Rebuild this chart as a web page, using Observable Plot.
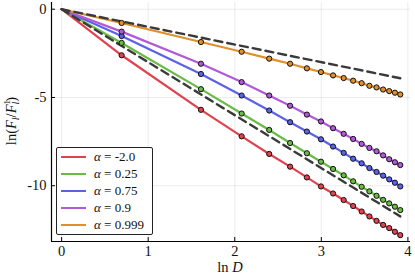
<!DOCTYPE html>
<html>
<head>
<meta charset="utf-8">
<script src="https://cdn.jsdelivr.net/npm/d3@7"></script>
<script src="https://cdn.jsdelivr.net/npm/@observablehq/plot@0.6"></script>
<style>
  html, body { margin: 0; padding: 0; background: #fff; }
  #wrap { position: relative; width: 415px; height: 277px; font-family: "Liberation Serif", serif; }
  #legend { position: absolute; left: 56px; top: 147px; width: 97px; height: 88px; border: 1px solid #222; border-radius: 2px; background: #fff; box-sizing: border-box; }
  .row { position: absolute; left: 0; height: 17px; display: flex; align-items: center; font-size: 13px; color: #111; white-space: nowrap; font-family: "Liberation Serif", serif; }
  .sw { width: 25px; height: 2px; margin-left: 4px; margin-right: 8px; }
  .al { font-style: italic; }
</style>
</head>
<body>
<div id="wrap"></div>
<script>
// D values (x = ln D)
const D = [1, 2, 5, 8, 11, 14, 17, 20, 23, 26, 29, 32, 35, 38, 41, 44, 47, 50];
const alphas = ["-2.0", "0.25", "0.75", "0.9", "0.999"];
const colors = ["#e0424f", "#69bb45", "#5b62e8", "#b15ad8", "#e08f2c"];
// ln(F_l / F_l^1) values per series (first value at D=1 is 0)
const yRed    = [0, -2.61, -5.70, -7.20, -8.20, -8.92, -9.53, -10.04, -10.44, -10.81, -11.15, -11.46, -11.74, -11.99, -12.22, -12.40, -12.61, -12.80];
const yGreen  = [0, -1.91, -4.53, -5.91, -6.84, -7.58, -8.16, -8.64, -9.05, -9.41, -9.75, -10.06, -10.32, -10.57, -10.80, -11.00, -11.19, -11.38];
const yBlue   = [0, -1.52, -3.67, -4.89, -5.74, -6.40, -6.93, -7.37, -7.78, -8.14, -8.47, -8.73, -9.00, -9.22, -9.43, -9.64, -9.83, -10.04];
const yPurple = [0, -1.27, -3.09, -4.13, -4.89, -5.47, -5.97, -6.36, -6.74, -7.06, -7.35, -7.63, -7.86, -8.05, -8.28, -8.50, -8.67, -8.83];
const yOrange = [0, -0.78, -1.86, -2.41, -2.80, -3.09, -3.35, -3.56, -3.75, -3.90, -4.05, -4.19, -4.34, -4.43, -4.55, -4.64, -4.73, -4.83];
// reference dashed lines: slope -1 and -3
const refSlopes = [-1, -3];
const xTicks = [0, 1, 2, 3, 4];
const yTicks = [0, -5, -10];

const series = [yRed, yGreen, yBlue, yPurple, yOrange];
const data = [];
series.forEach((ys, i) => ys.forEach((y, j) => data.push({s: alphas[i], x: Math.log(D[j]), y, j})));
const pts = data.filter(d => d.j > 0);
const refData = [];
refSlopes.forEach(k => [D[0], D[D.length - 1]].forEach(d => refData.push({k, x: Math.log(d), y: k * Math.log(d)})));

const xDomain = [-0.117, 4.03];
const yDomain = [-13.16, 0.38];

const chart = Plot.plot({
  width: 415,
  height: 277,
  marginLeft: 51,
  marginRight: 5,
  marginTop: 2,
  marginBottom: 36,
  style: {fontFamily: "Liberation Serif, serif", fontSize: "14px", background: "#fff", overflow: "visible"},
  x: {domain: xDomain, ticks: xTicks, label: null},
  y: {domain: yDomain, ticks: yTicks, label: null},
  color: {domain: alphas, range: colors},
  marks: [
    Plot.gridX(xTicks, {stroke: "#000", strokeOpacity: 0.1, strokeWidth: 0.8}),
    Plot.gridY(yTicks, {stroke: "#000", strokeOpacity: 0.1, strokeWidth: 0.8}),
    Plot.line(data, {x: "x", y: "y", z: "s", stroke: "s", strokeWidth: 2.2}),
    Plot.line(refData, {x: "x", y: "y", z: "k", stroke: "#3a3a3a", strokeWidth: 2.4, strokeDasharray: "8,5"}),
    Plot.dot(pts, {x: "x", y: "y", fill: "s", stroke: "#111", strokeWidth: 1, r: 2.6}),
    Plot.ruleX([xDomain[0]], {stroke: "#000", strokeWidth: 1.2}),
    Plot.ruleY([yDomain[0]], {stroke: "#000", strokeWidth: 1.2}),
    Plot.axisX(xTicks, {tickSize: 0, tickPadding: 4, fontSize: 14.5, fill: "#111"}),
    Plot.axisX(xTicks, {tickSize: 4, text: null, dy: -4, stroke: "#000"}),
    Plot.axisY(yTicks, {tickSize: 0, tickPadding: 5, fontSize: 14.5, fill: "#111", tickFormat: d => d === 0 ? "0" : "-" + Math.abs(d)}),
    Plot.axisY(yTicks, {tickSize: 4, text: null, dx: 4, stroke: "#000"})
  ]
});

const wrap = document.getElementById("wrap");
wrap.appendChild(chart);

// axis labels
const svg = d3.select(chart);
const yl = svg.append("text")
  .attr("transform", "translate(16,121) rotate(-90)")
  .attr("text-anchor", "middle")
  .attr("font-size", 14.5).attr("fill", "#111")
  .attr("font-family", "Liberation Serif, serif");
yl.append("tspan").text("ln(");
yl.append("tspan").attr("font-style", "italic").text("F");
yl.append("tspan").attr("font-style", "italic").attr("font-size", 10).attr("dy", 3).text("l");
yl.append("tspan").attr("dy", -3).text("/");
yl.append("tspan").attr("font-style", "italic").text("F");
yl.append("tspan").attr("font-size", 9).attr("dy", -6).text("1");
yl.append("tspan").attr("font-style", "italic").attr("font-size", 10).attr("dx", -4.5).attr("dy", 9).text("l");
yl.append("tspan").attr("dy", -3).text(")");

const xl = svg.append("text")
  .attr("x", 230).attr("y", 272)
  .attr("text-anchor", "middle")
  .attr("font-size", 14.5).attr("fill", "#111")
  .attr("font-family", "Liberation Serif, serif");
xl.append("tspan").text("ln ");
xl.append("tspan").attr("font-style", "italic").text("D");

// legend
const legend = document.createElement("div");
legend.id = "legend";
alphas.forEach((a, i) => {
  const row = document.createElement("div");
  row.className = "row";
  row.style.top = (0.5 + i * 17) + "px";
  row.innerHTML = `<div class="sw" style="background:${colors[i]}"></div><span><span class="al">α</span> = ${a}</span>`;
  legend.appendChild(row);
});
wrap.appendChild(legend);
</script>
</body>
</html>
